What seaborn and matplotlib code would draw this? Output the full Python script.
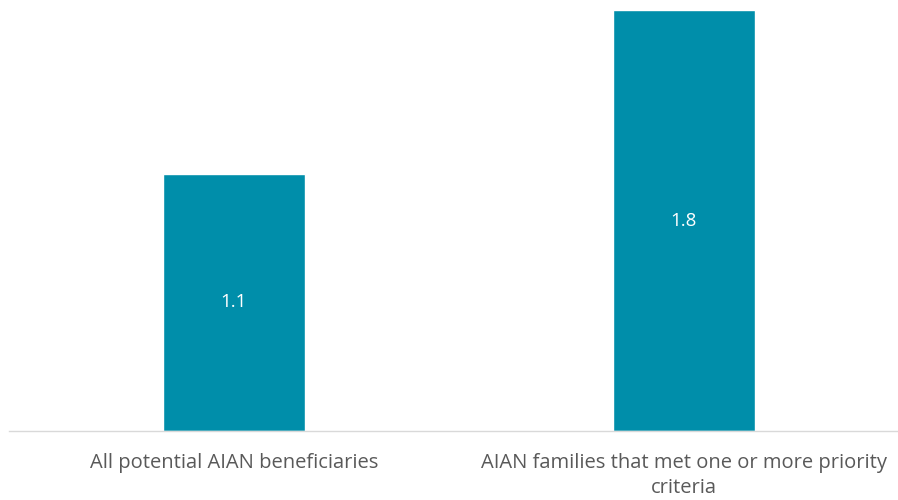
import pandas as pd
import matplotlib
matplotlib.use('Agg')
import matplotlib.pyplot as plt
import seaborn as sns

categories = ['All potential AIAN beneficiaries',
              'AIAN families that met one or more priority\ncriteria']
values = [1.1, 1.8]

df = pd.DataFrame({'group': categories, 'value': values})

sns.set_style('white')
plt.rcParams['font.family'] = ['Open Sans', 'DejaVu Sans']

fig = plt.figure(figsize=(8.98, 5), dpi=100)
ax = fig.add_axes([0.01, 0.138, 1.002, 0.842])

sns.barplot(data=df, x='group', y='value', color='#008EAA', width=0.316,
            saturation=1, ax=ax)

for c in ax.containers:
    ax.bar_label(c, labels=[f'{v:.1f}' for v in values], label_type='center',
                 color='white', fontsize=13.5)

ax.set_ylim(0, 1.8)
ax.set_xlim(-0.5, 1.5)
ax.set_xlabel('')
ax.set_ylabel('')
ax.set_yticks([])
ax.tick_params(axis='x', length=0, pad=16, labelsize=14.5, labelcolor='#595959')
for lbl in ax.get_xticklabels():
    lbl.set_linespacing(1.35)
for s in ['top', 'left', 'right']:
    ax.spines[s].set_visible(False)
ax.spines['bottom'].set_color('#D9D9D9')
ax.spines['bottom'].set_linewidth(1)

fig.savefig('out.png', dpi=100)
